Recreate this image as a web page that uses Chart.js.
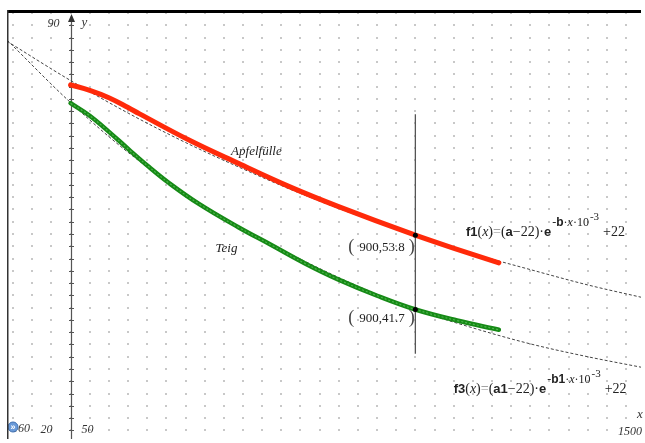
<!DOCTYPE html>
<html>
<head>
<meta charset="utf-8">
<script src="https://cdn.jsdelivr.net/npm/chart.js@4/dist/chart.umd.min.js"></script>
<style>
  html, body { margin: 0; padding: 0; background: #fff; }
  #wrap { width: 645px; height: 443px; }
</style>
</head>
<body>
<div id="wrap"><canvas id="c" width="645" height="443"></canvas></div>
<script>
// window of the graph
const xMin = -166, xMax = 1489;
const yMin = 20.6, yMax = 90;
const gridStepX = 50, gridStepY = 2;

// measured temperatures: Apfelfuelle (red)
const apfelX = [0, 50, 100, 150, 179, 309, 438, 568, 698, 900, 1009, 1118];
const apfelY = [78.3, 77.4, 76.2, 74.6, 73.6, 69.3, 65.5, 61.8, 58.5, 53.8, 51.5, 49.3];

// measured temperatures: Teig (green)
const teigX = [0, 49, 101, 153, 205, 257, 335, 438, 524, 612, 698, 802, 900, 1009, 1118];
const teigY = [75.3, 73.3, 70.6, 67.7, 64.9, 62.3, 58.9, 55.1, 52.2, 49.2, 46.6, 43.9, 41.7, 39.9, 38.4];

// fitted curves f1 and f3
const fitX  = [-166, 0, 150, 300, 450, 600, 750, 900, 1050, 1200, 1350, 1489];
const f1Y   = [85.4, 79.0, 73.7, 68.9, 64.6, 60.6, 57.0, 53.8, 50.8, 48.2, 45.7, 43.7];
const f3Y   = [85.6, 75.4, 67.3, 60.6, 54.8, 49.9, 45.5, 41.7, 38.7, 36.1, 34.0, 32.3];

// vertical line x = 900 and the two marked points
const vLineX = [900, 900];
const vLineY = [73.5, 34.5];
const markX = [900, 900];
const markY = [53.8, 41.7];

const SERIF = '"Liberation Serif", "DejaVu Serif", serif';
const SANS = '"Liberation Sans", Arial, sans-serif';

const pts = (xs, ys) => xs.map((x, i) => ({ x: x, y: ys[i] }));

function drawRich(ctx, x, y, parts) {
  for (const p of parts) {
    ctx.font = p.f;
    ctx.fillStyle = p.c || '#222';
    ctx.fillText(p.t, x, y + (p.dy || 0));
    x += ctx.measureText(p.t).width + (p.sp || 0);
  }
}

function formula(fn, a, b) {
  const reg = '14px ' + SERIF, it = 'italic 14px ' + SERIF, bold = 'bold 13px ' + SANS;
  const sReg = '12px ' + SERIF, sIt = 'italic 12px ' + SERIF, sBold = 'bold 12px ' + SANS;
  return [
    { t: fn, f: bold },
    { t: '(', f: reg }, { t: 'x', f: it }, { t: ')', f: reg },
    { t: '=', f: reg, c: '#888' }, { t: '(', f: reg },
    { t: a, f: bold },
    { t: '\u221222)\u00b7', f: reg },
    { t: 'e', f: bold, sp: 1 },
    { t: '-', f: sReg, dy: -10 }, { t: b, f: sBold, dy: -10 },
    { t: '\u00b7', f: sReg, dy: -10 }, { t: 'x', f: sIt, dy: -10 },
    { t: '\u00b710', f: sReg, dy: -10, sp: 1 },
    { t: '-3', f: '11px ' + SERIF, dy: -16, sp: 4 },
    { t: '+22', f: reg }
  ];
}

const paper = {
  id: 'paper',
  beforeDatasetsDraw(chart) {
    const { ctx, chartArea: ca, scales: { x, y } } = chart;
    ctx.save();
    // dot grid
    ctx.fillStyle = '#c8c8c8';
    for (let gx = Math.ceil(xMin / gridStepX) * gridStepX; gx <= xMax; gx += gridStepX) {
      for (let gy = Math.ceil(yMin / gridStepY) * gridStepY; gy <= yMax; gy += gridStepY) {
        ctx.fillRect(Math.round(x.getPixelForValue(gx)) - 1, Math.round(y.getPixelForValue(gy)) - 1, 2, 2);
      }
    }
    // y axis at x = 0 with ticks and arrow
    const ax = Math.round(x.getPixelForValue(0)) + 0.5;
    ctx.strokeStyle = '#555';
    ctx.lineWidth = 1.2;
    ctx.beginPath();
    ctx.moveTo(ax, ca.top + 3);
    ctx.lineTo(ax, ca.bottom);
    ctx.stroke();
    ctx.lineWidth = 1;
    for (let gy = Math.ceil(yMin / gridStepY) * gridStepY; gy < yMax; gy += gridStepY) {
      const py = Math.round(y.getPixelForValue(gy)) + 0.5;
      ctx.beginPath();
      ctx.moveTo(ax - 2.5, py);
      ctx.lineTo(ax + 2.5, py);
      ctx.stroke();
    }
    ctx.fillStyle = '#333';
    ctx.beginPath();
    ctx.moveTo(ax, ca.top + 1);
    ctx.lineTo(ax - 3.5, ca.top + 9);
    ctx.lineTo(ax + 3.5, ca.top + 9);
    ctx.closePath();
    ctx.fill();
    ctx.restore();
  },
  afterDatasetsDraw(chart) {
    const { ctx, chartArea: ca, scales: { x, y } } = chart;
    const X = v => x.getPixelForValue(v), Y = v => y.getPixelForValue(v);
    ctx.save();
    ctx.textBaseline = 'alphabetic';
    ctx.fillStyle = '#333';

    // window labels
    ctx.font = 'italic 12px ' + SERIF;
    ctx.textAlign = 'right';
    ctx.fillText('90', X(0) - 11, ca.top + 14);
    ctx.fillText('20', X(0) - 18, ca.bottom - 6);
    ctx.fillText('-160', 30, ca.bottom - 7);
    ctx.fillText('1500', ca.right + 1, ca.bottom - 4);
    ctx.textAlign = 'left';
    ctx.fillText('50', X(0) + 11, ca.bottom - 6);
    ctx.font = 'italic 13px ' + SERIF;
    ctx.fillText('y', X(0) + 11, ca.top + 13);
    ctx.fillText('x', ca.right - 4, ca.bottom - 21);

    // curve names
    ctx.font = 'italic 13px ' + SERIF;
    ctx.fillStyle = '#222';
    ctx.textAlign = 'center';
    ctx.fillText('Apfelf\u00fclle', X(485), Y(66.8));
    ctx.fillText('Teig', X(407), Y(51.1));

    // coordinates of the marked points
    ctx.textAlign = 'left';
    [[53.8, Y(51.3)], [41.7, Y(39.7)]].forEach(([v, by]) => {
      const x0 = X(725);
      ctx.font = '18px ' + SERIF;
      ctx.fillStyle = '#444';
      ctx.fillText('(', x0, by + 1);
      ctx.font = '13px ' + SERIF;
      ctx.fillStyle = '#222';
      ctx.fillText('900,' + v.toFixed(1), x0 + 11, by);
      const w = ctx.measureText('900,' + v.toFixed(1)).width;
      ctx.font = '18px ' + SERIF;
      ctx.fillStyle = '#444';
      ctx.fillText(')', x0 + 15 + w, by + 1);
    });

    // formulas
    drawRich(ctx, X(1032), Y(53.7), formula('f1', 'a', 'b'));
    drawRich(ctx, X(1000), Y(28.1), formula('f3', 'a1', 'b1'));

    // page icon bottom-left
    ctx.fillStyle = '#6a9ad8';
    ctx.beginPath();
    ctx.arc(13, ca.bottom - 12, 5, 0, Math.PI * 2);
    ctx.fill();
    ctx.strokeStyle = '#3f6fb0';
    ctx.lineWidth = 1;
    ctx.stroke();
    ctx.fillStyle = '#fff';
    ctx.font = 'bold 9px ' + SANS;
    ctx.textAlign = 'center';
    ctx.fillText('\u00bb', 13, ca.bottom - 9);
    ctx.restore();
  },
  afterDraw(chart) {
    const { ctx, chartArea: ca } = chart;
    ctx.save();
    ctx.fillStyle = '#000';
    ctx.fillRect(ca.left, ca.top - 3, ca.right - ca.left, 3);
    ctx.fillStyle = '#333';
    ctx.fillRect(ca.left, ca.top - 3, 1.5, ca.bottom - ca.top + 3);
    ctx.restore();
  }
};

new Chart(document.getElementById('c'), {
  type: 'scatter',
  data: {
    datasets: [
      { data: pts(markX, markY), pointRadius: 2.5, pointBackgroundColor: '#000', pointBorderWidth: 0, showLine: false },
      { data: pts(vLineX, vLineY), showLine: true, borderColor: '#555', borderWidth: 1.3, pointRadius: 0 },
      { data: pts(teigX, teigY), showLine: true, borderColor: 'rgba(90,190,90,0.8)', borderWidth: 1.2,
        pointRadius: 0, tension: 0.4, borderDash: [2, 2] },
      { data: pts(apfelX, apfelY), showLine: true, borderColor: '#ff2a0a', borderWidth: 5,
        pointRadius: 0, tension: 0.4, borderCapStyle: 'round' },
      { data: pts(teigX, teigY), showLine: true, borderColor: '#168a16', borderWidth: 4.5,
        pointRadius: 0, tension: 0.4, borderCapStyle: 'round' },
      { data: pts(fitX, f1Y), showLine: true, borderColor: '#444', borderWidth: 1, borderDash: [3, 2],
        pointRadius: 0, cubicInterpolationMode: 'monotone' },
      { data: pts(fitX, f3Y), showLine: true, borderColor: '#444', borderWidth: 1, borderDash: [3, 2],
        pointRadius: 0, cubicInterpolationMode: 'monotone' }
    ]
  },
  options: {
    responsive: false,
    animation: false,
    devicePixelRatio: 1,
    layout: { padding: { left: 7, top: 13, right: 0, bottom: 0 } },
    plugins: { legend: { display: false }, tooltip: { enabled: false } },
    events: [],
    scales: {
      x: { type: 'linear', min: xMin, max: xMax, display: false },
      y: { type: 'linear', min: yMin, max: yMax, display: false }
    }
  },
  plugins: [paper]
});
</script>
</body>
</html>
